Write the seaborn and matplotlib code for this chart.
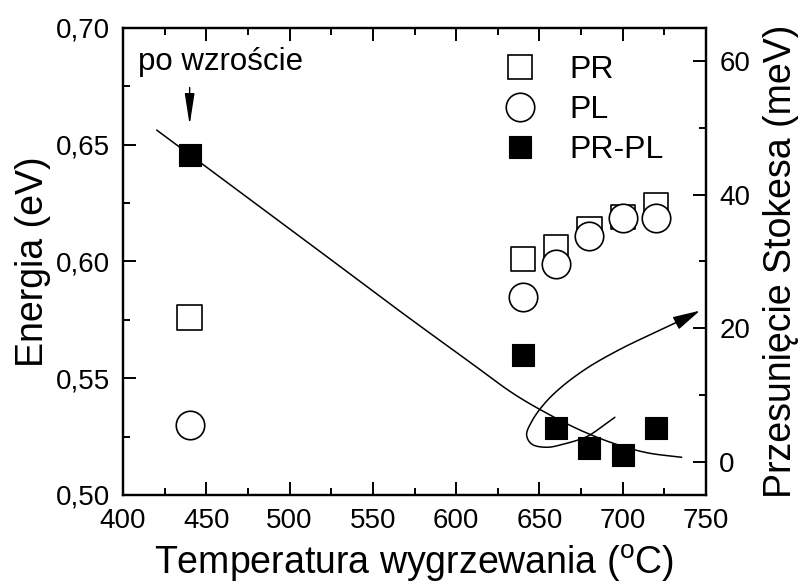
import numpy as np
import pandas as pd
import matplotlib
matplotlib.use("Agg")
import matplotlib.pyplot as plt
from matplotlib.lines import Line2D
from matplotlib.ticker import MultipleLocator, FuncFormatter
import seaborn as sns

# Annealing temperature (°C)
temperature = [440, 640, 660, 680, 700, 720]
# Photoreflectance transition energy (eV)
pr_energy = [0.576, 0.601, 0.606, 0.614, 0.619, 0.624]
# Photoluminescence peak energy (eV)
pl_energy = [0.530, 0.585, 0.599, 0.611, 0.6185, 0.6185]
# Stokes shift PR-PL (meV)
stokes_shift = [46, 16, 5, 2, 1, 5]

# Hand-drawn guide for the Stokes shift trend (T, meV)
trend_T = [420.2, 504.3, 570.3, 608.3, 634.3, 654.4, 674.3, 694.3, 714.4, 735.4]
trend_meV = [49.7, 34.1, 21.8, 14.9, 10.2, 7.25, 4.74, 2.75, 1.34, 0.65]

# Loop around the low-shift points, ending in an arrow to the right axis (T, meV)
loop_T = [695.3, 686.3, 678.4, 666.4, 654.4, 645.3, 642.3, 645.3, 652.3, 662.3,
          678.4, 698.4, 718.3, 736.3, 746.4]
loop_meV = [6.65, 5.0, 3.74, 2.75, 2.15, 2.64, 4.0, 5.99, 8.49, 10.99,
            13.99, 16.84, 19.24, 21.34, 22.63]


def smooth_curve(ax, xs, ys, n=40):
    """Centripetal Catmull-Rom spline through data points, built in display space."""
    pts = ax.transData.transform(np.column_stack([xs, ys]))
    p = np.vstack([2 * pts[0] - pts[1], pts, 2 * pts[-1] - pts[-2]])
    out = []
    for i in range(1, len(p) - 2):
        p0, p1, p2, p3 = p[i - 1], p[i], p[i + 1], p[i + 2]
        t0 = 0.0
        t1 = t0 + np.linalg.norm(p1 - p0) ** 0.5
        t2 = t1 + np.linalg.norm(p2 - p1) ** 0.5
        t3 = t2 + np.linalg.norm(p3 - p2) ** 0.5
        t = np.linspace(t1, t2, n, endpoint=False)[:, None]
        a1 = (t1 - t) / (t1 - t0) * p0 + (t - t0) / (t1 - t0) * p1
        a2 = (t2 - t) / (t2 - t1) * p1 + (t - t1) / (t2 - t1) * p2
        a3 = (t3 - t) / (t3 - t2) * p2 + (t - t2) / (t3 - t2) * p3
        b1 = (t2 - t) / (t2 - t0) * a1 + (t - t0) / (t2 - t0) * a2
        b2 = (t3 - t) / (t3 - t1) * a2 + (t - t1) / (t3 - t1) * a3
        out.append((t2 - t) / (t2 - t1) * b1 + (t - t1) / (t2 - t1) * b2)
    out.append(p[-2][None, :])
    curve = ax.transData.inverted().transform(np.vstack(out))
    return curve[:, 0], curve[:, 1]


sns.set_theme(style="ticks", rc={
    "text.color": "black", "axes.labelcolor": "black", "axes.edgecolor": "black",
    "xtick.color": "black", "ytick.color": "black",
})
plt.rcParams["font.family"] = ["Liberation Sans", "DejaVu Sans"]
plt.rcParams["mathtext.fontset"] = "custom"
plt.rcParams["mathtext.rm"] = "Liberation Sans"
plt.rcParams["axes.linewidth"] = 1.6

df = pd.DataFrame({"T": temperature, "PR": pr_energy, "PL": pl_energy, "shift": stokes_shift})

fig = plt.figure(figsize=(8.03, 5.88), dpi=100)
ax = fig.add_axes([0.1532, 0.1582, 0.7260, 0.7942])
ax2 = ax.twinx()

ax.set_xlim(400, 750)
ax.set_ylim(0.50, 0.70)
ax2.set_ylim(-5, 65)

sns.scatterplot(data=df, x="T", y="PR", marker="s", s=17.5 ** 2, ax=ax, zorder=3)
ax.collections[-1].set_facecolor("none")
ax.collections[-1].set_edgecolor("black")
ax.collections[-1].set_linewidth(1.2)
sns.scatterplot(data=df, x="T", y="PL", marker="o", s=20.5 ** 2, ax=ax, zorder=4)
ax.collections[-1].set_facecolor("white")
ax.collections[-1].set_edgecolor("black")
ax.collections[-1].set_linewidth(1.2)

sns.scatterplot(data=df, x="T", y="shift", marker="s", s=15.5 ** 2, ax=ax2, zorder=3)
ax2.collections[-1].set_facecolor("black")
ax2.collections[-1].set_edgecolor("black")
ax2.collections[-1].set_linewidth(0.8)

tx, ty = smooth_curve(ax2, trend_T, trend_meV)
ax2.plot(tx, ty, color="black", lw=1.1, zorder=2)
lx, ly = smooth_curve(ax2, loop_T, loop_meV)
ax2.plot(lx[:-12], ly[:-12], color="black", lw=1.1, zorder=2)
ax2.annotate("", xy=(lx[-1], ly[-1]), xytext=(lx[-13], ly[-13]),
             arrowprops=dict(arrowstyle="-|>,head_length=1.4,head_width=0.35",
                             color="black", lw=1.1, shrinkA=0, shrinkB=0))

# As-grown annotation
ax.annotate("", xy=(440, 0.6585), xytext=(440, 0.6745),
            arrowprops=dict(arrowstyle="-|>,head_length=1.6,head_width=0.25",
                            color="black", lw=1.0, shrinkA=0, shrinkB=0))
ax.text(409, 0.6855, "po wzroście", fontsize=22.5, va="center", ha="left")

ax.xaxis.set_major_locator(MultipleLocator(50))
ax.xaxis.set_minor_locator(MultipleLocator(25))
ax.yaxis.set_major_locator(MultipleLocator(0.05))
ax.yaxis.set_minor_locator(MultipleLocator(0.025))
ax.yaxis.set_major_formatter(FuncFormatter(lambda v, p: f"{v:.2f}".replace(".", ",")))
ax2.yaxis.set_major_locator(MultipleLocator(20))
ax2.yaxis.set_minor_locator(MultipleLocator(10))

ax.tick_params(which="both", direction="in", top=True, right=False, width=1.4, labelsize=20, pad=9.5)
ax.tick_params(which="major", length=9.5)
ax.tick_params(which="minor", length=5)
ax2.tick_params(which="both", direction="in", width=1.4, labelsize=20, pad=9.5)
ax2.tick_params(which="major", length=9.5)
ax2.tick_params(which="minor", length=5)

ax.set_xlabel(r"Temperatura wygrzewania ($^{\mathrm{o}}$C)", fontsize=27, labelpad=6)
ax.set_ylabel("Energia (eV)", fontsize=27, labelpad=3)
ax2.set_ylabel("Przesunięcie Stokesa (meV)", fontsize=27, labelpad=9)

handles = [
    Line2D([], [], marker="s", ls="", ms=17.5, mfc="none", mec="black", mew=1.2),
    Line2D([], [], marker="o", ls="", ms=20.5, mfc="none", mec="black", mew=1.2),
    Line2D([], [], marker="s", ls="", ms=15.5, mfc="black", mec="black", mew=0.8),
]
ax2.legend(handles, ["PR", "PL", "PR-PL"], loc="upper left", frameon=False, fontsize=23,
           bbox_to_anchor=(497.6 / 803, 1 - 55 / 588), bbox_transform=fig.transFigure,
           handletextpad=0.86, labelspacing=0.32, borderpad=0, borderaxespad=0,
           handlelength=1.4)

fig.savefig("out.png", dpi=100)
